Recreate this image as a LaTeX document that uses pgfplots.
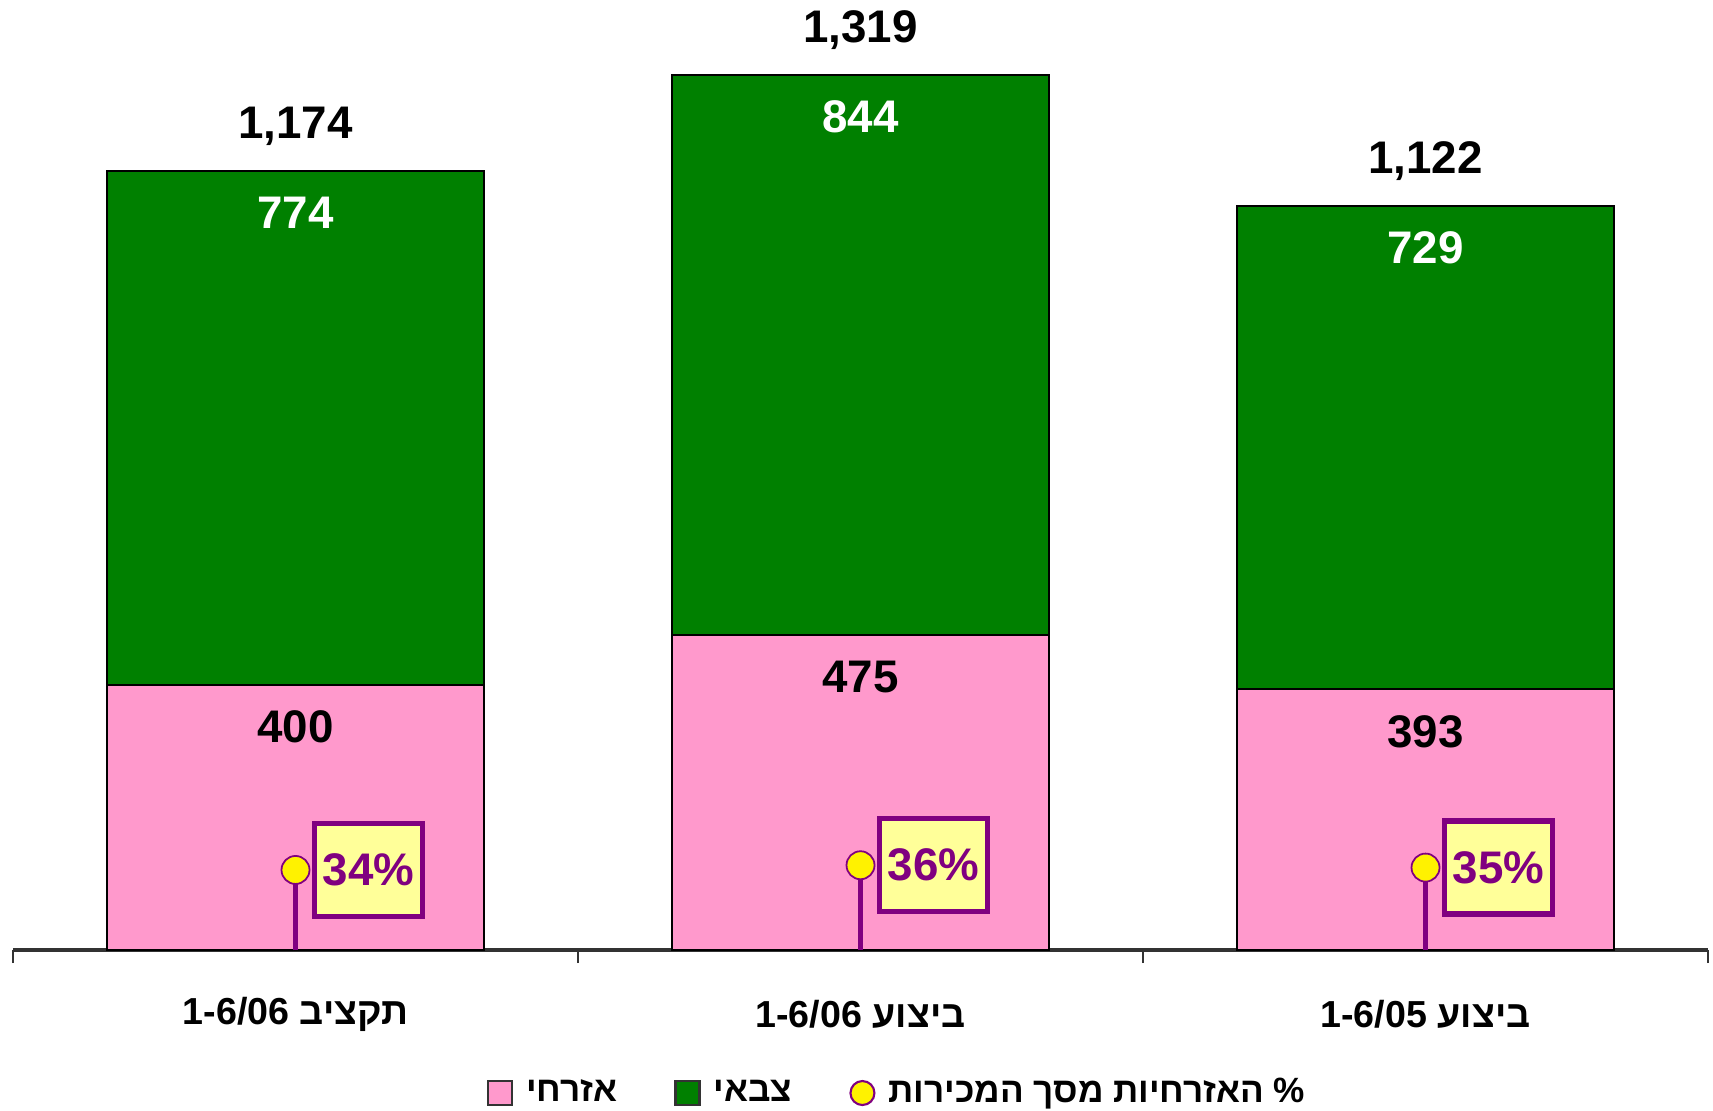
\documentclass[border=0pt]{standalone}
\usepackage{fontspec}
\setmainfont{Liberation Sans}
\newfontfamily\hebfont[Script=Hebrew]{Liberation Sans}
\usepackage{pgfplots}
\pgfplotsset{compat=1.18}
\TeXXeTstate=1
\definecolor{civ}{HTML}{FF99CC}
\definecolor{mil}{HTML}{008000}
\definecolor{pct}{HTML}{800080}
\definecolor{note}{HTML}{FFFF99}
\newcommand{\heb}[1]{{\hebfont\bfseries\beginR #1\endR}}
\newcommand{\valfont}{\bfseries\fontsize{13}{15}\selectfont}
\pgfplotsset{frame/.style={at={(1.3mm,16mm)}, anchor=south west,
    scale only axis, width=169.5mm, height=94.2mm, xmin=-0.5, xmax=2.5}}

\begin{document}
\begin{tikzpicture}
\useasboundingbox (0,0) rectangle (171.3mm,111mm);
% bars
\begin{axis}[frame,
    ybar stacked, bar width=0.667,
    ymin=0, ymax=1420,
    axis x line=bottom, axis y line=none,
    axis line style={-, black!80, line width=1pt},
    xtick={0,1,2}, major tick length=0pt,
    minor xtick={-0.5,0.5,1.5,2.5}, minor tick length=1.3mm,
    tick align=outside, tick style={black!80, line width=0.8pt},
    xticklabels={{\heb{תקציב \beginL 1-6/06\endL}},{\heb{ביצוע \beginL 1-6/06\endL}},{\heb{ביצוע \beginL 1-6/05\endL}}},
    xticklabel style={anchor=center, yshift=-6.4mm, font=\fontsize{10.7}{13}\selectfont},
    legend style={at={(0.523,0)}, anchor=center, yshift=-14.3mm, draw=none, fill=none,
        legend columns=-1, font=\fontsize{10}{12}\selectfont,
        /tikz/every odd column/.append style={column sep=0.6mm},
        /tikz/every even column/.append style={column sep=5mm}},
  ]
  \addplot[fill=civ, draw=black, line width=0.5pt,
    legend image code/.code={\draw[fill=civ, draw=black!80, line width=0.7pt] (0mm,-1.2mm) rectangle (2.4mm,1.2mm);}]
    coordinates {(0,400) (1,475) (2,393)};
  \addlegendentry{\heb{אזרחי}}
  \addplot[fill=mil, draw=black, line width=0.5pt,
    legend image code/.code={\draw[fill=mil, draw=black!80, line width=0.7pt] (0mm,-1.2mm) rectangle (2.4mm,1.2mm);}]
    coordinates {(0,774) (1,844) (2,729)};
  \addlegendentry{\heb{צבאי}}
  \addlegendimage{legend image code/.code={\filldraw[fill=yellow, draw=pct, line width=0.6pt] (1.2mm,0mm) circle (1.2mm);}}
  \addlegendentry{\heb{\% האזרחיות מסך המכירות}}
\end{axis}
% value labels
\begin{axis}[frame, ymin=0, ymax=1420, hide axis, clip=false,
    point meta=explicit symbolic, nodes near coords]
  \addplot[draw=none, every node near coord/.append style={anchor=center, yshift=-4.2mm, font=\valfont, text=black}]
    coordinates {(0,400)[400] (1,475)[475] (2,393)[393]};
  \addplot[draw=none, every node near coord/.append style={anchor=center, yshift=-4.2mm, font=\valfont, text=white}]
    coordinates {(0,1174)[774] (1,1319)[844] (2,1122)[729]};
  \addplot[draw=none, every node near coord/.append style={anchor=center, yshift=4.5mm, font=\valfont, text=black}]
    coordinates {(0,1174)[1{,}174] (1,1319)[1{,}319] (2,1122)[1{,}122]};
\end{axis}
% share of civilian sales
\begin{axis}[frame, ymin=0, ymax=400, hide axis, clip=false]
  \addplot[ycomb, pct, line width=0.55mm, mark=*, mark size=1.4mm,
    mark options={fill=yellow, draw=pct, line width=0.5pt},
    point meta=explicit symbolic, nodes near coords,
    every node near coord/.append style={anchor=center, xshift=7.3mm, fill=note, draw=pct,
      line width=0.55mm, minimum width=10.8mm, minimum height=9.3mm, inner sep=0pt,
      text=pct, font=\valfont}]
    coordinates {(0,34)[34\%] (1,36)[36\%] (2,35)[35\%]};
\end{axis}
\end{tikzpicture}
\end{document}
